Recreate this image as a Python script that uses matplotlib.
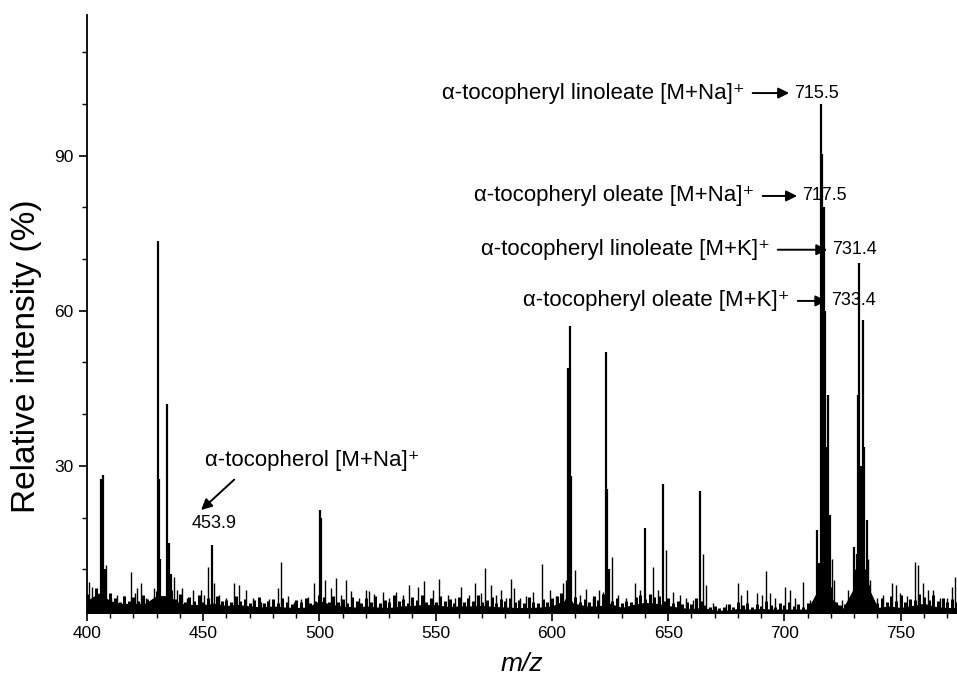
import matplotlib
matplotlib.use("Agg")
import matplotlib.pyplot as plt
from matplotlib.ticker import MultipleLocator, FixedLocator

plt.rcParams["font.family"] = ["Liberation Sans", "DejaVu Sans"]

# main peaks (m/z, relative intensity %)
peak_mz = [406.2, 406.8, 407.6, 430.4, 430.9, 431.6, 434.6, 435.3, 436.0,
           453.9, 500.3, 500.8, 607.1, 607.6, 608.1, 623.3, 623.8, 624.4,
           639.9, 647.8, 663.6, 713.8, 714.8, 715.9, 716.3, 716.8, 717.4,
           718.4, 718.8, 719.5, 729.7, 731.0, 731.6, 732.0, 732.5, 733.0,
           733.6, 734.2, 735.3]
peak_int = [27.5, 28.2, 10.0, 73.5, 27.5, 12.0, 42.0, 15.0, 9.0,
            14.7, 21.5, 20.0, 49.0, 57.0, 28.0, 52.0, 25.5, 10.0,
            18.0, 26.5, 25.2, 17.6, 11.2, 100.0, 90.4, 80.0, 60.0,
            33.7, 43.7, 20.5, 14.4, 13.0, 43.7, 69.2, 23.4, 30.0,
            58.2, 33.7, 19.5]

# small noise spikes
noise_mz = [400.9, 402.3, 403.7, 408.3, 410.2, 413.1, 415.9, 418.8, 420.7, 421.7,
            423.1, 425.3, 428.9, 437.5, 438.9, 441.0, 443.2, 445.4, 449.0, 450.4,
            452.1, 454.7, 456.8, 459.7, 463.3, 465.2, 468.3, 471.2, 474.8, 478.4,
            482.0, 483.4, 486.3, 489.1, 492.0, 494.9, 497.8, 502.5, 505.0, 507.1,
            509.3, 511.4, 513.6, 517.1, 520.0, 521.4, 523.6, 527.2, 530.1, 532.9,
            535.8, 538.7, 542.3, 545.1, 548.7, 551.6, 555.2, 558.1, 560.9, 564.5,
            567.1, 569.5, 571.4, 573.9, 576.0, 578.2, 580.4, 582.2, 583.5, 586.1,
            588.9, 591.8, 595.8, 599.0, 601.8, 604.7, 606.2, 609.7, 611.9, 614.8,
            617.6, 620.2, 621.9, 625.9, 628.4, 632.0, 635.6, 637.7, 643.5, 645.6,
            648.9, 652.1, 654.9, 657.8, 660.7, 664.8, 666.2, 669.3, 675.0, 680.1,
            681.5, 683.7, 688.0, 690.2, 692.0, 693.7, 695.9, 700.2, 702.4, 704.5,
            708.1, 711.0, 720.3, 721.2, 724.6, 727.4, 730.4, 736.0, 736.8, 739.7,
            742.5, 746.1, 748.0, 749.7, 752.6, 756.2, 757.6, 759.7, 761.9, 764.0,
            766.9, 769.8, 772.0, 773.4]
noise_int = [7.6, 6.6, 5.5, 10.8, 4.5, 5.0, 4.8, 9.5, 5.5, 6.4,
             7.4, 4.4, 6.4, 8.6, 6.0, 6.4, 4.5, 6.0, 6.0, 5.0,
             10.5, 7.4, 5.0, 4.5, 7.4, 7.0, 6.0, 4.5, 3.7, 4.2,
             6.4, 11.5, 4.8, 3.7, 4.2, 4.7, 7.4, 8.0, 6.4, 8.4,
             5.0, 8.0, 5.8, 4.5, 6.0, 5.8, 5.2, 5.7, 4.5, 5.7,
             5.0, 7.0, 6.6, 7.7, 6.0, 8.1, 5.0, 4.5, 6.6, 5.0,
             7.4, 5.5, 10.2, 7.0, 5.0, 6.0, 4.5, 8.1, 6.3, 4.5,
             4.8, 5.7, 11.0, 6.0, 4.8, 7.3, 8.0, 9.9, 5.0, 6.1,
             4.5, 6.0, 5.7, 12.4, 5.0, 4.5, 7.3, 6.0, 10.5, 6.0,
             13.7, 5.7, 5.0, 4.4, 4.0, 13.0, 7.0, 3.5, 3.3, 7.3,
             5.0, 6.0, 5.5, 5.0, 9.7, 5.5, 4.5, 6.6, 6.0, 4.5,
             7.6, 4.0, 12.0, 8.0, 4.0, 6.0, 10.0, 12.0, 8.0, 4.5,
             5.0, 7.3, 7.0, 5.5, 4.8, 11.5, 10.8, 7.4, 6.0, 6.0,
             4.5, 4.5, 6.6, 8.6]

# dense baseline "grass", one value every 2 m/z from 400 to 776
grass_mz = list(range(400, 777, 2))
grass_int = [5.2, 4.1, 6.3, 4.8, 3.9, 5.5, 4.4, 3.6, 4.9, 3.8, 4.6,
             3.9, 5.1, 4.2, 3.7, 5.8, 4.5, 3.8, 6.0, 4.3, 5.2,
             3.6, 4.7, 3.9, 5.0, 3.7, 4.4, 3.5, 4.8, 3.9, 4.1,
             3.6, 4.9, 3.8, 4.3, 3.5, 4.0, 4.6, 3.4, 3.9, 4.2,
             3.5, 4.4, 3.7, 3.3, 4.1, 3.6, 4.5, 3.4, 3.8, 5.0,
             4.6, 3.7, 4.9, 3.6, 4.2, 3.5, 4.7, 3.8, 3.4, 4.5,
             3.7, 4.8, 3.5, 4.1, 3.6, 5.0, 3.8, 4.3, 3.5, 4.6,
             4.0, 5.1, 3.7, 4.5, 3.6, 4.9, 3.8, 4.2, 3.5, 4.7,
             3.6, 4.4, 3.9, 5.0, 3.7, 4.1, 4.6, 3.5, 4.3, 3.8,
             4.5, 3.6, 4.0, 3.4, 4.6, 3.7, 3.5, 4.2, 3.6, 4.4,
             4.9, 5.5, 4.2, 3.9, 4.6, 3.7, 4.3, 3.6, 4.8, 4.1,
             5.2, 4.4, 3.8, 4.5, 3.4, 3.9, 3.6, 4.7, 5.0, 4.2,
             5.3, 4.6, 4.9, 3.8, 4.4, 3.5, 3.9, 3.3, 3.6, 3.2,
             4.5, 3.8, 3.0, 2.7, 2.9, 2.6, 2.8, 3.2, 2.7, 3.6,
             3.1, 3.5, 2.8, 3.3, 2.9, 3.9, 3.0, 2.8, 3.4, 3.0,
             3.6, 2.9, 3.2, 2.8, 3.4, 3.0, 4.2, 7.5, 9.0, 6.5,
             3.6, 3.0, 3.3, 4.0, 6.5, 9.5, 10.0, 7.0, 3.8, 3.5,
             4.4, 3.6, 4.8, 3.9, 5.0, 3.7, 4.3, 4.0, 5.2, 4.6,
             4.1, 5.0, 3.8, 4.4, 3.6, 4.2, 3.7, 4.5]

# solid lower part of the baseline band, every 5 m/z
band_mz = list(range(400, 780, 5))
band_int = [3.8, 5.3, 3.8, 3.3, 3.3, 3.3, 4.8, 4.8, 3.3, 3.1,
            3.1, 3.3, 2.9, 3.1, 2.8, 2.6, 2.8, 2.6, 2.5, 2.6,
            3.8, 3.1, 2.8, 2.6, 2.8, 2.6, 2.5, 2.8, 2.9, 3.1,
            3.1, 2.7, 2.8, 2.8, 2.9, 2.7, 2.6, 2.5, 2.5, 2.6,
            2.8, 3.8, 3.3, 2.8, 2.8, 3.3, 2.5, 3.1, 3.5, 3.3,
            2.9, 2.5, 2.3, 2.5, 2.0, 2.0, 2.3, 2.2, 2.3, 2.2,
            2.2, 2.2, 2.2, 6.3, 4.3, 2.2, 6.3, 7.3, 2.5, 2.8,
            2.5, 2.9, 3.3, 2.7, 2.5, 2.5]

labels = ["α-tocopheryl linoleate [M+Na]⁺", "α-tocopheryl oleate [M+Na]⁺",
          "α-tocopheryl linoleate [M+K]⁺", "α-tocopheryl oleate [M+K]⁺"]
label_values = ["715.5", "717.5", "731.4", "733.4"]

base = 1.55

fig = plt.figure(figsize=(9.57, 6.78), dpi=100)
ax = fig.add_axes([0.0909, 0.0959, 0.9091, 0.882])

ax.fill_between(band_mz, base, band_int, color="black", lw=0.8)
ax.vlines(grass_mz, base, grass_int, color="black", lw=2.2)
ax.vlines(noise_mz, base, noise_int, color="black", lw=1.0)
ax.vlines(peak_mz, base, peak_int, color="black", lw=1.6)

# annotations on the right
text_pos = [(682.9, 102.1), (687.2, 82.2), (693.7, 71.8), (702.3, 61.9)]
arrow_end = [703.2, 706.6, 719.6, 719.2]
for (tx, ty), ax_end, lab, val in zip(text_pos, arrow_end, labels, label_values):
    ax.text(tx, ty, lab, ha="right", va="center", fontsize=16)
    ax.annotate("", xy=(ax_end, ty), xytext=(tx + 2.2, ty),
                arrowprops=dict(arrowstyle="-|>", color="black", lw=1.4,
                                mutation_scale=16))
    ax.text(ax_end + 1.0, ty, val, ha="left", va="center", fontsize=13)

# tocopherol annotation
ax.text(496.7, 31.1, "α-tocopherol [M+Na]⁺", ha="center", va="center", fontsize=16)
ax.annotate("", xy=(448.2, 21.1), xytext=(464.2, 27.7),
            arrowprops=dict(arrowstyle="-|>", color="black", lw=1.4, mutation_scale=16))
ax.text(454.7, 18.8, "453.9", ha="center", va="center", fontsize=13)

ax.set_xlim(400, 774.2)
ax.set_ylim(base, 117.2)

ax.xaxis.set_major_locator(MultipleLocator(50))
ax.xaxis.set_minor_locator(MultipleLocator(10))
ax.yaxis.set_major_locator(FixedLocator([30, 60, 90]))
ax.yaxis.set_minor_locator(FixedLocator([10, 20, 40, 50, 70, 80, 100, 110]))
ax.tick_params(which="major", direction="out", length=6, width=1.2, labelsize=12.5)
ax.tick_params(which="minor", direction="out", length=3.5, width=1.0)

for s in ["top", "right"]:
    ax.spines[s].set_visible(False)
for s in ["left", "bottom"]:
    ax.spines[s].set_linewidth(1.3)

ax.set_xlabel("m/z", fontsize=19, style="italic", labelpad=8)
ax.set_ylabel("Relative intensity (%)", fontsize=24)
ax.yaxis.set_label_coords(-0.052, 0.43)

fig.savefig("out.png", dpi=100)
